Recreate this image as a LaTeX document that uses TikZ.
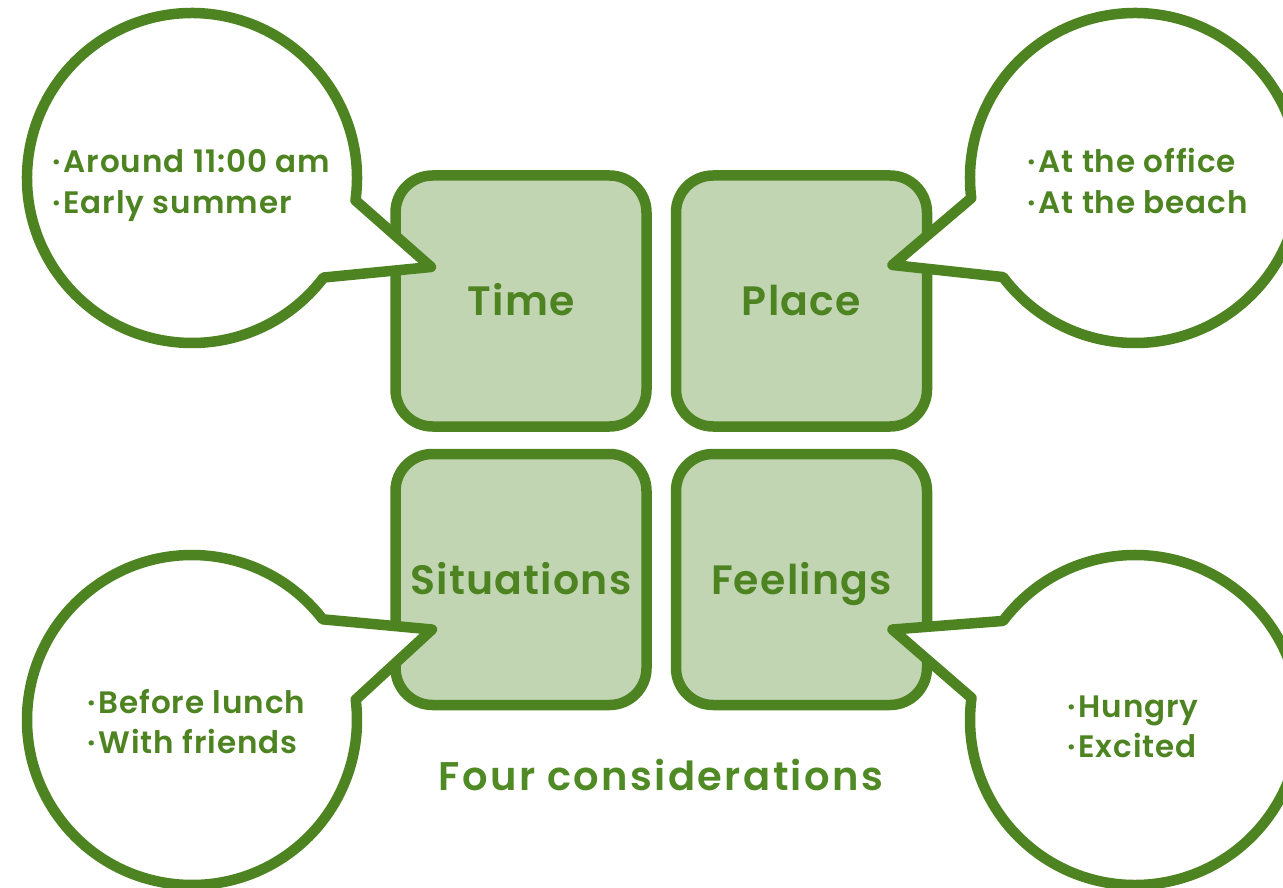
\documentclass[tikz,border=0pt]{standalone}
\usepackage{fontspec}
\setmainfont{Poppins}[BoldFont={Poppins SemiBold}, LetterSpace=3]
\usetikzlibrary{positioning}
\definecolor{cLine}{HTML}{4D8421}
\definecolor{cCard}{HTML}{C1D5B3}
\definecolor{cTitle}{HTML}{4F8A24}
\newcommand{\dotitem}{·\kern3pt}

\begin{document}
\begin{tikzpicture}[
    x=1pt, y=1pt,
    card/.style={draw=cLine, fill=cCard, line width=10.5pt, rounded corners=37pt,
      minimum width=251pt, minimum height=251pt, text=cLine, text height=29pt, text depth=0pt,
      font=\bfseries\fontsize{41}{41}\selectfont},
    bubble/.style={draw=cLine, fill=white, line width=10.5pt, line join=round},
    say/.style={align=left, anchor=base west, inner sep=0pt, text=cLine,
      font=\bfseries\fontsize{31}{40}\selectfont},
  ]
  \useasboundingbox (0,0) rectangle (1283,-888);
  \clip (0,0) rectangle (1283,-888);

  % --- the four cards ---
  \node[card] (time) at (521,-301) {Time};
  \node[card, right=19pt of time] (place) {Place};
  \node[card, below=17pt of time] (situ) {Situations};
  \node[card, right=19pt of situ] (feel) {Feelings};

  % --- speech bubbles, tails pointing into the cards ---
  \coordinate (tipT) at ([shift={(-90pt,34pt)}]time.center);
  \coordinate (tipP) at ([shift={(91pt,36pt)}]place.center);
  \coordinate (tipS) at ([shift={(-89pt,-50pt)}]situ.center);
  \coordinate (tipF) at ([shift={(91pt,-50pt)}]feel.center);
  \coordinate (bubT) at (192,-178);
  \coordinate (bubP) at (1135,-178);
  \coordinate (bubS) at (192,-720);
  \coordinate (bubF) at (1135,-720);

  \draw[bubble] (tipT) -- ([shift={(-7.8:165pt)}]bubT)
    arc[start angle=-7.8, end angle=322.9, radius=165pt] -- cycle;
  \draw[bubble] (tipP) -- ([shift={(187:165pt)}]bubP)
    arc[start angle=187, end angle=-143.1, radius=165pt] -- cycle;
  \draw[bubble] (tipS) -- ([shift={(37.6:165pt)}]bubS)
    arc[start angle=37.6, end angle=367.1, radius=165pt] -- cycle;
  \draw[bubble] (tipF) -- ([shift={(143.1:165pt)}]bubF)
    arc[start angle=143.1, end angle=-187.7, radius=165pt] -- cycle;

  % --- bubble texts (anchored on the last line) ---
  \node[say] (timeTxt) at (52,-213) {\dotitem Around 11:00 am\\\dotitem Early summer};
  \node[say] (placeTxt) at (1027,-213) {\dotitem At the office\\\dotitem At the beach};
  \node[say] (situTxt) at (87,-753) {\dotitem Before lunch\\\dotitem With friends};
  \node[say] (feelTxt) at (1067,-757) {\dotitem Hungry\\\dotitem Excited};

  \node[anchor=base, text=cTitle, font=\bfseries\fontsize{40}{40}\selectfont\addfontfeatures{LetterSpace=6}] (title)
    at (661,-790) {Four considerations};
\end{tikzpicture}
\end{document}
